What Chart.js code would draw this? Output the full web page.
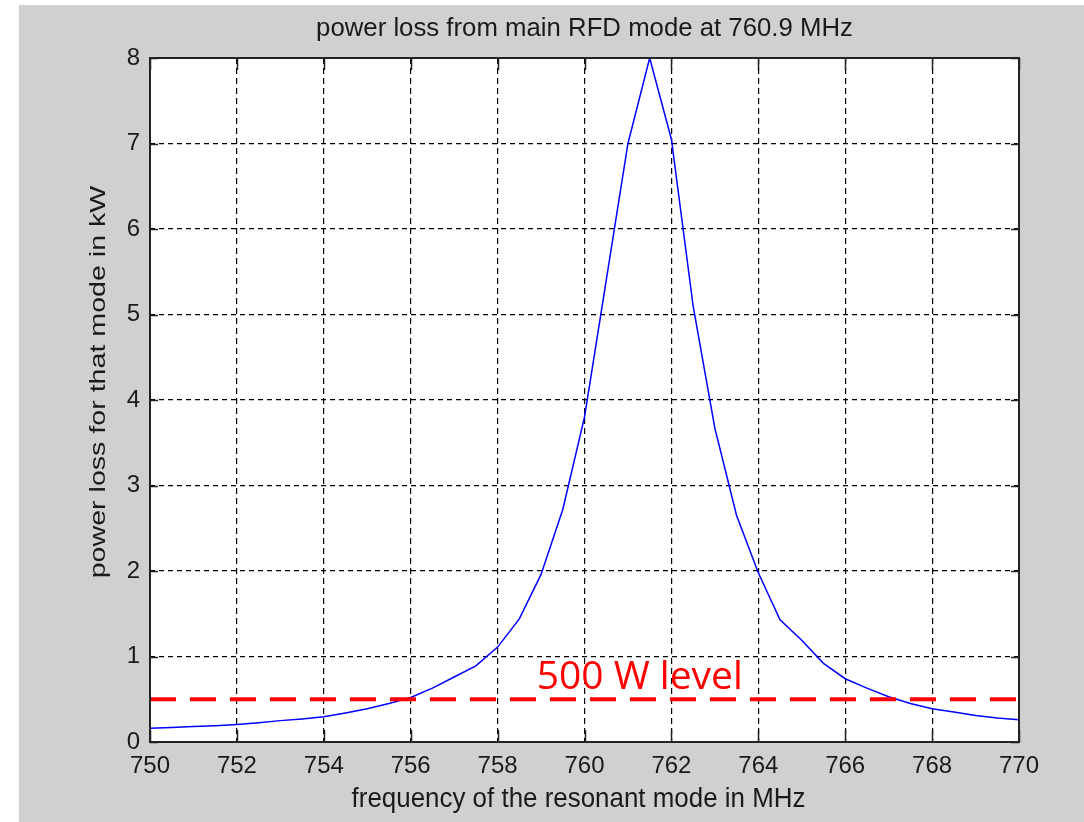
<!DOCTYPE html>
<html>
<head>
<meta charset="utf-8">
<script src="https://cdn.jsdelivr.net/npm/chart.js@4.4.1/dist/chart.umd.min.js"></script>
<style>
  body { margin: 0; background: #fff; }
  #wrap { width: 1084px; height: 822px; }
</style>
</head>
<body>
<div id="wrap"><canvas id="lossChart" width="1084" height="822"></canvas></div>
<script>
// frequency of resonant mode (MHz) and power loss (kW)
const freqMHz = [750, 750.5, 751, 751.5, 752, 752.5, 753, 753.5, 754, 754.5,
    755, 755.5, 756, 756.5, 757, 757.5, 758, 758.5, 759, 759.5,
    760, 760.5, 761, 761.5, 762, 762.5, 763, 763.5, 764, 764.5,
    765, 765.5, 766, 766.5, 767, 767.5, 768, 768.5, 769, 769.5, 770];
const lossKW = [0.16, 0.17, 0.18, 0.19, 0.205, 0.225, 0.25, 0.27, 0.295, 0.34,
    0.39, 0.45, 0.52, 0.63, 0.76, 0.89, 1.11, 1.44, 1.96, 2.72,
    3.8, 5.4, 7.0, 8.0, 7.05, 5.1, 3.67, 2.65, 1.98, 1.43,
    1.19, 0.92, 0.74, 0.63, 0.53, 0.45, 0.39, 0.35, 0.31, 0.28, 0.26];

// 500 W reference level
const levelX = [750, 770];
const levelY = [0.5, 0.5];
const levelText = "500 W level";
const levelTextAt = [758.9, 0.62];

const xTicks = [750, 752, 754, 756, 758, 760, 762, 764, 766, 768, 770];
const yTicks = [0, 1, 2, 3, 4, 5, 6, 7, 8];

const titleText = "power loss from main RFD mode at 760.9 MHz";
const xTitle = "frequency of the resonant mode in MHz";
const yTitle = "power loss for that mode in kW";

const axisFont = "'Liberation Sans', Arial, sans-serif";

// gray figure background + white axes box
const figureBg = {
    id: "figureBg",
    beforeDraw(chart) {
        const ctx = chart.ctx, a = chart.chartArea;
        ctx.save();
        ctx.fillStyle = "#ffffff";
        ctx.fillRect(0, 0, chart.width, chart.height);
        ctx.fillStyle = "#d0d0d0";
        ctx.fillRect(19, 5, chart.width - 19, chart.height - 5);
        ctx.fillStyle = "#ffffff";
        ctx.fillRect(a.left, a.top, a.right - a.left, a.bottom - a.top);
        ctx.restore();
    }
};

// matlab style box with inward ticks, titles (slightly stretched like the figure), red label
const boxAndLabel = {
    id: "boxAndLabel",
    afterDraw(chart) {
        const ctx = chart.ctx, a = chart.chartArea;
        const xs = chart.scales.x, ys = chart.scales.y;
        const cx = (a.left + a.right) / 2;
        ctx.save();
        ctx.strokeStyle = "#222";
        ctx.lineWidth = 1.5;
        xTicks.forEach(v => {
            const px = Math.round(xs.getPixelForValue(v)) + 0.5;
            ctx.beginPath();
            ctx.moveTo(px, a.bottom); ctx.lineTo(px, a.bottom - 12);
            ctx.moveTo(px, a.top); ctx.lineTo(px, a.top + 12);
            ctx.stroke();
        });
        yTicks.forEach(v => {
            const py = Math.round(ys.getPixelForValue(v)) + 0.5;
            ctx.beginPath();
            ctx.moveTo(a.left, py); ctx.lineTo(a.left + 8, py);
            ctx.moveTo(a.right, py); ctx.lineTo(a.right - 8, py);
            ctx.stroke();
        });
        ctx.lineWidth = 2;
        ctx.strokeRect(a.left, a.top, a.right - a.left, a.bottom - a.top);

        // titles
        ctx.fillStyle = "#1a1a1a";
        ctx.textAlign = "center";
        ctx.textBaseline = "middle";
        ctx.font = "23px " + axisFont;
        ctx.save();
        ctx.translate(cx, 29);
        ctx.scale(1.12, 1.1);
        ctx.fillText(titleText, 0, 0);
        ctx.restore();

        ctx.font = "24px " + axisFont;
        ctx.save();
        ctx.translate(cx - 6, 800);
        ctx.scale(1.08, 1.12);
        ctx.fillText(xTitle, 0, 0);
        ctx.restore();

        ctx.font = "22px " + axisFont;
        ctx.save();
        ctx.translate(99, 382);
        ctx.rotate(-Math.PI / 2);
        ctx.scale(1.3, 1.0);
        ctx.fillText(yTitle, 0, 0);
        ctx.restore();

        ctx.fillStyle = "#ff0000";
        ctx.textAlign = "left";
        ctx.textBaseline = "alphabetic";
        ctx.font = "39px 'Open Sans', sans-serif";
        ctx.fillText(levelText, xs.getPixelForValue(levelTextAt[0]), ys.getPixelForValue(levelTextAt[1]));
        ctx.restore();
    }
};

new Chart(document.getElementById("lossChart").getContext("2d"), {
    type: "line",
    data: {
        datasets: [{
            label: "500 W level",
            data: levelX.map((x, i) => ({ x: x, y: levelY[i] })),
            borderColor: "#ff0000",
            borderWidth: 4,
            borderDash: [26, 14],
            pointRadius: 0,
            fill: false,
            order: 0
        }, {
            label: "power loss",
            data: freqMHz.map((x, i) => ({ x: x, y: lossKW[i] })),
            borderColor: "#0000ff",
            borderWidth: 1.5,
            pointRadius: 0,
            fill: false,
            tension: 0,
            order: 1
        }]
    },
    options: {
        responsive: false,
        animation: false,
        layout: { padding: { left: 0, right: 65, top: 58, bottom: 0 } },
        plugins: {
            legend: { display: false },
            tooltip: { enabled: false },
            title: { display: false }
        },
        scales: {
            x: {
                type: "linear",
                min: 750, max: 770,
                afterFit: s => { s.height = 80; },
                afterBuildTicks: s => { s.ticks = xTicks.map(v => ({ value: v })); },
                grid: { color: "#000", lineWidth: 1.2, drawTicks: false },
                border: { display: false, dash: [6, 4] },
                ticks: { color: "#1a1a1a", padding: 10, font: { family: axisFont, size: 24 }, maxRotation: 0 }
            },
            y: {
                min: 0, max: 8,
                afterFit: s => { s.width = 150; },
                afterBuildTicks: s => { s.ticks = yTicks.map(v => ({ value: v })); },
                grid: { color: "#000", lineWidth: 1.2, drawTicks: false },
                border: { display: false, dash: [5, 4] },
                ticks: { color: "#1a1a1a", padding: 10, font: { family: axisFont, size: 24 } }
            }
        }
    },
    plugins: [figureBg, boxAndLabel]
});
</script>
</body>
</html>
